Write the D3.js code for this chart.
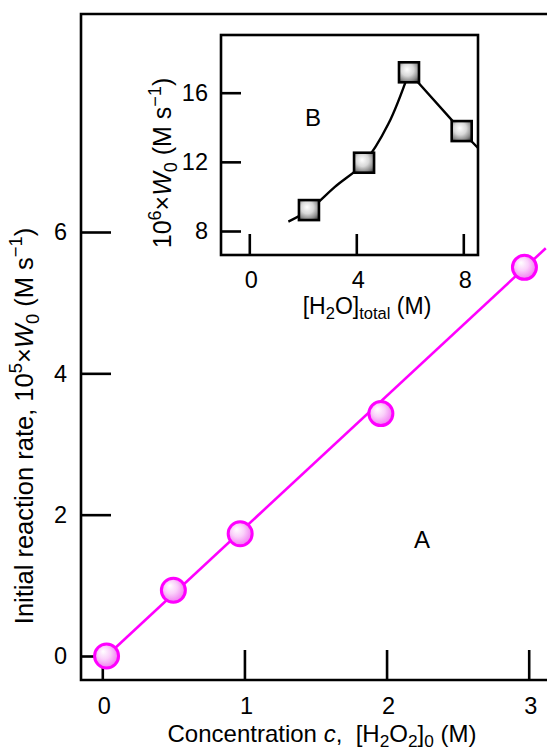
<!DOCTYPE html>
<html>
<head>
<meta charset="utf-8">
<script src="https://cdn.jsdelivr.net/npm/d3@7"></script>
<style>
  html, body { margin: 0; padding: 0; background: #fff; }
  svg { display: block; font-family: "Liberation Sans", Arial, Helvetica, sans-serif; }
</style>
</head>
<body>
<svg id="chart" width="547" height="751"></svg>
<script>
// Panel A: initial rate vs. H2O2 concentration
const concH2O2 = [0.03, 0.5, 0.97, 1.96, 2.97];        // M
const rateA    = [0.0, 0.93, 1.73, 3.43, 5.50];          // 10^5 x W0, M s^-1
const fitA     = [[0.03, 0.0], [3.12, 5.77]];            // linear fit, start/end
const xTicksA  = [0, 1, 2, 3];
const yTicksA  = [0, 2, 4, 6];

// Panel B (inset): initial rate vs. total water content
const waterTotal = [2.23, 4.29, 5.97, 7.94];             // M
const rateB      = [9.21, 11.95, 17.18, 13.78];          // 10^6 x W0, M s^-1
const curveBRise = [[1.46, 8.54], [2.23, 9.21], [3.2, 10.55], [4.29, 11.95], [5.2, 14.2], [5.97, 17.18]];
const curveBFall = [[5.97, 17.18], [7.94, 13.78], [8.55, 12.8]];
const xTicksB  = [0, 4, 8];
const yTicksB  = [8, 12, 16];

const svg = d3.select("#chart");
const FS = 24;     // titles and panel letters
const FT = 23.5;   // tick numbers

// gradients for markers
const defs = svg.append("defs");
const gPink = defs.append("radialGradient").attr("id", "ballPink")
  .attr("cx", "45%").attr("cy", "45%").attr("r", "60%").attr("fx", "35%").attr("fy", "30%");
gPink.append("stop").attr("offset", "0%").attr("stop-color", "#ffffff");
gPink.append("stop").attr("offset", "45%").attr("stop-color", "#fad0fa");
gPink.append("stop").attr("offset", "85%").attr("stop-color", "#f28af2");
gPink.append("stop").attr("offset", "100%").attr("stop-color", "#e85ae8");

const gGray = defs.append("radialGradient").attr("id", "boxGray")
  .attr("cx", "45%").attr("cy", "40%").attr("r", "70%").attr("fx", "40%").attr("fy", "35%");
gGray.append("stop").attr("offset", "0%").attr("stop-color", "#ffffff");
gGray.append("stop").attr("offset", "45%").attr("stop-color", "#d8d8d8");
gGray.append("stop").attr("offset", "80%").attr("stop-color", "#8a8a8a");
gGray.append("stop").attr("offset", "100%").attr("stop-color", "#4a4a4a");

// rich text helper: parts of {t, s} where s in normal|sub|sup|it
function richText(sel, parts, size) {
  let shift = 0;
  parts.forEach(p => {
    const ts = sel.append("tspan").text(p.t);
    let target = 0, fs = size;
    if (p.s === "sub") { target = size * 0.22; fs = size * 0.72; }
    if (p.s === "sup") { target = -size * 0.42; fs = size * 0.72; }
    ts.attr("font-size", fs);
    if (p.s === "it") ts.attr("font-style", "italic");
    const dy = target - shift;
    if (dy !== 0) ts.attr("dy", dy);
    shift = target;
  });
}

// ---------- main panel ----------
const frameA = { left: 81, top: 14, bottom: 680, right: 560 };
const xA = d3.scaleLinear().domain([0, 3]).range([102.3, 528.7]);
const yA = d3.scaleLinear().domain([0, 6]).range([656, 232]);

const gA = svg.append("g");
gA.append("path")
  .attr("d", `M${frameA.right},${frameA.top}H${frameA.left}V${frameA.bottom}H${frameA.right}`)
  .attr("fill", "none").attr("stroke", "#000").attr("stroke-width", 2.6);

// y axis ticks (inward)
const yAxisA = d3.axisRight(yA).tickValues(yTicksA).tickSize(30).tickFormat("");
gA.append("g").attr("transform", `translate(${frameA.left},0)`).call(yAxisA)
  .call(g => g.select(".domain").remove())
  .call(g => g.selectAll("line").attr("stroke-width", 2.6));
gA.selectAll(".ylabA").data(yTicksA).join("text")
  .attr("x", 67).attr("y", d => yA(d)).attr("dy", "0.36em")
  .attr("text-anchor", "end").attr("font-size", FT).text(d => d);

// x axis ticks (inward)
const xAxisA = d3.axisTop(xA).tickValues(xTicksA).tickSize(30).tickFormat("");
gA.append("g").attr("transform", `translate(0,${frameA.bottom})`).call(xAxisA)
  .call(g => g.select(".domain").remove())
  .call(g => g.selectAll("line").attr("stroke-width", 2.6));
gA.selectAll(".xlabA").data(xTicksA).join("text")
  .attr("x", d => xA(d) + 2).attr("y", 714)
  .attr("text-anchor", "middle").attr("font-size", FT).text(d => d);

// axis titles
const xt = gA.append("text").attr("x", 322).attr("y", 742).attr("text-anchor", "middle")
  .attr("font-size", FS).style("white-space", "pre");
richText(xt, [
  { t: "Concentration ", s: "normal" }, { t: "c", s: "it" }, { t: ",  [H", s: "normal" },
  { t: "2", s: "sub" }, { t: "O", s: "normal" }, { t: "2", s: "sub" }, { t: "]", s: "normal" },
  { t: "0", s: "sub" }, { t: " (M)", s: "normal" }
], FS);

const yt = gA.append("text").attr("transform", "translate(33,426) rotate(-90)")
  .attr("text-anchor", "middle").attr("font-size", 25.5);
richText(yt, [
  { t: "Initial reaction rate, 10", s: "normal" }, { t: "5", s: "sup" }, { t: "\u00d7", s: "normal" },
  { t: "W", s: "it" }, { t: "0", s: "sub" }, { t: " (M s", s: "normal" }, { t: "\u22121", s: "sup" },
  { t: ")", s: "normal" }
], 25.5);

// fit line and points
gA.append("path").datum(fitA)
  .attr("d", d3.line().x(d => xA(d[0])).y(d => yA(d[1])))
  .attr("fill", "none").attr("stroke", "#ff00ff").attr("stroke-width", 2.6);
gA.selectAll(".ptA").data(concH2O2.map((c, i) => [c, rateA[i]])).join("circle")
  .attr("cx", d => xA(d[0])).attr("cy", d => yA(d[1])).attr("r", 12)
  .attr("fill", "url(#ballPink)").attr("stroke", "#ff00ff").attr("stroke-width", 3);

gA.append("text").attr("x", 422).attr("y", 548).attr("text-anchor", "middle")
  .attr("font-size", FS).text("A");

// ---------- inset panel ----------
const frameB = { left: 221, top: 35, right: 478, bottom: 255 };
const xB = d3.scaleLinear().domain([0, 8]).range([249.3, 463.3]);
const yB = d3.scaleLinear().domain([8, 16]).range([231, 92.7]);

const gB = svg.append("g");
gB.append("rect").attr("x", frameB.left).attr("y", frameB.top)
  .attr("width", frameB.right - frameB.left).attr("height", frameB.bottom - frameB.top)
  .attr("fill", "#fff").attr("stroke", "#000").attr("stroke-width", 2.6);

const yAxisB = d3.axisRight(yB).tickValues(yTicksB).tickSize(20).tickFormat("");
gB.append("g").attr("transform", `translate(${frameB.left},0)`).call(yAxisB)
  .call(g => g.select(".domain").remove())
  .call(g => g.selectAll("line").attr("stroke-width", 2.6));
gB.selectAll(".ylabB").data(yTicksB).join("text")
  .attr("x", 208).attr("y", d => yB(d)).attr("dy", "0.36em")
  .attr("text-anchor", "end").attr("font-size", FT).text(d => d);

const xAxisB = d3.axisTop(xB).tickValues(xTicksB).tickSize(21).tickFormat("");
gB.append("g").attr("transform", `translate(0,${frameB.bottom})`).call(xAxisB)
  .call(g => g.select(".domain").remove())
  .call(g => g.selectAll("line").attr("stroke-width", 2.6));
gB.selectAll(".xlabB").data(xTicksB).join("text")
  .attr("x", d => xB(d) + 2).attr("y", 288)
  .attr("text-anchor", "middle").attr("font-size", FT).text(d => d);

const xtB = gB.append("text").attr("x", 367).attr("y", 314).attr("text-anchor", "middle")
  .attr("font-size", 23);
richText(xtB, [
  { t: "[H", s: "normal" }, { t: "2", s: "sub" }, { t: "O]", s: "normal" },
  { t: "total", s: "sub" }, { t: " (M)", s: "normal" }
], 23);

const ytB = gB.append("text").attr("transform", "translate(171,163) rotate(-90)")
  .attr("text-anchor", "middle").attr("font-size", 25);
richText(ytB, [
  { t: "10", s: "normal" }, { t: "6", s: "sup" }, { t: "\u00d7", s: "normal" },
  { t: "W", s: "it" }, { t: "0", s: "sub" }, { t: " (M s", s: "normal" }, { t: "\u22121", s: "sup" },
  { t: ")", s: "normal" }
], 25);

gB.append("path").datum(curveBRise)
  .attr("d", d3.line().x(d => xB(d[0])).y(d => yB(d[1])).curve(d3.curveCatmullRom.alpha(0.5)))
  .attr("fill", "none").attr("stroke", "#000").attr("stroke-width", 2.4);
gB.append("path").datum(curveBFall)
  .attr("d", d3.line().x(d => xB(d[0])).y(d => yB(d[1])))
  .attr("fill", "none").attr("stroke", "#000").attr("stroke-width", 2.4);

const S = 20;
gB.selectAll(".ptB").data(waterTotal.map((w, i) => [w, rateB[i]])).join("rect")
  .attr("x", d => xB(d[0]) - S / 2).attr("y", d => yB(d[1]) - S / 2)
  .attr("width", S).attr("height", S)
  .attr("fill", "url(#boxGray)").attr("stroke", "#000").attr("stroke-width", 2.6);

gB.append("text").attr("x", 313).attr("y", 126).attr("text-anchor", "middle")
  .attr("font-size", FS).text("B");
</script>
</body>
</html>
